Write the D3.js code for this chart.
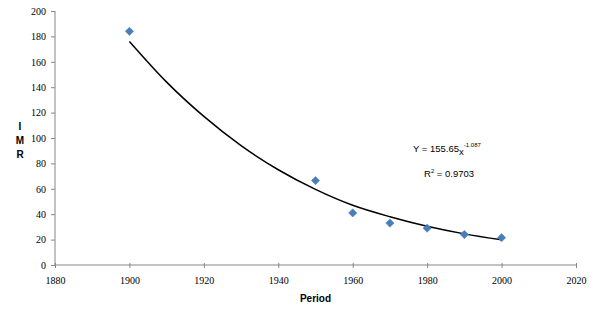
<!DOCTYPE html>
<html>
<head>
<meta charset="utf-8">
<script src="https://cdn.jsdelivr.net/npm/d3@7"></script>
<style>
  body { margin: 0; background: #fff; }
  .axis path, .axis line { stroke: #868686; }
  .lbl { font-family: "Liberation Sans", Arial, sans-serif; font-size: 10px; font-weight: bold; }
  .eq { font-family: "Liberation Sans", Arial, sans-serif; font-size: 9.5px; }
</style>
</head>
<body>
<div id="chart"></div>
<script>
(function() {
  // observed IMR by period
  var years = [1900, 1950, 1960, 1970, 1980, 1990, 2000];
  var imr = [184, 66.5, 41, 33, 29, 24, 21.5];

  // power trendline
  var trendYears = [1900, 1910, 1920, 1930, 1940, 1950, 1960, 1970, 1980, 1990, 2000];
  var trendVals = [176, 144, 117, 94, 75, 59.5, 47, 38, 30.5, 24.5, 19.8];

  var xTicks = [1880, 1900, 1920, 1940, 1960, 1980, 2000, 2020];
  var yTicks = [0, 20, 40, 60, 80, 100, 120, 140, 160, 180, 200];

  var margin = { top: 11, right: 24, bottom: 54, left: 55 },
      outerWidth = 600,
      outerHeight = 319,
      width = outerWidth - margin.left - margin.right,
      height = outerHeight - margin.top - margin.bottom;

  var x = d3.scaleLinear().domain([1880, 2020]).range([0, width]);
  var y = d3.scaleLinear().domain([0, 200]).range([height, 0]);

  var svg = d3.select("#chart").append("svg")
      .attr("width", outerWidth)
      .attr("height", outerHeight)
    .append("g")
      .attr("transform", "translate(" + margin.left + "," + margin.top + ")");

  svg.append("g")
      .attr("class", "x axis")
      .attr("transform", "translate(0," + height + ")")
      .call(d3.axisBottom(x).tickValues(xTicks).tickSize(4).tickSizeOuter(0).tickPadding(8).tickFormat(d => d))
      .call(g => g.selectAll(".tick line").attr("y1", -2).attr("y2", 3));

  svg.append("g")
      .attr("class", "y axis")
      .call(d3.axisLeft(y).tickValues(yTicks).tickSize(4).tickSizeOuter(0).tickPadding(5))
      .call(g => g.select(".domain").attr("d", "M0," + height + "V0"));

  svg.select(".x.axis .domain").attr("d", "M0,0H" + width);

  svg.selectAll(".axis text")
      .style("font-family", "'Liberation Serif', 'DejaVu Serif', serif")
      .style("font-size", "10px")
      .attr("fill", "#000");

  var line = d3.line()
      .curve(d3.curveMonotoneX)
      .x((d, i) => x(trendYears[i]))
      .y(d => y(d));

  svg.append("path")
      .datum(trendVals)
      .attr("fill", "none")
      .attr("stroke", "#000")
      .attr("stroke-width", 1.5)
      .attr("d", line);

  svg.append("g")
    .selectAll("path")
    .data(imr)
    .join("path")
      .attr("transform", (d, i) => "translate(" + x(years[i]) + "," + y(d) + ")")
      .attr("d", d3.symbol().type(d3.symbolDiamond2).size(44))
      .attr("fill", "#4a7ebb")
      .attr("stroke", "#4a7ebb")
      .attr("stroke-width", 0.5);

  // axis titles
  svg.append("text")
      .attr("class", "lbl")
      .attr("x", x(1950))
      .attr("y", height + 37)
      .attr("text-anchor", "middle")
      .text("Period");

  ["I", "M", "R"].forEach(function(c, i) {
    svg.append("text")
        .attr("class", "lbl")
        .attr("x", 20 - margin.left)
        .attr("y", 119 + i * 14)
        .attr("text-anchor", "middle")
        .text(c);
  });

  // trendline equation
  var eq = svg.append("text")
      .attr("class", "eq")
      .attr("x", 413 - margin.left)
      .attr("y", 152 - margin.top);
  eq.append("tspan").text("Y = 155.65");
  eq.append("tspan").attr("dy", 3).text("x");
  eq.append("tspan").attr("dy", -8).attr("font-size", "6px").text("-1.087");

  var r2 = svg.append("text")
      .attr("class", "eq")
      .attr("x", 424 - margin.left)
      .attr("y", 177 - margin.top);
  r2.append("tspan").text("R");
  r2.append("tspan").attr("dy", -4).attr("font-size", "6px").text("2");
  r2.append("tspan").attr("dy", 4).text(" = 0.9703");
})();
</script>
</body>
</html>
